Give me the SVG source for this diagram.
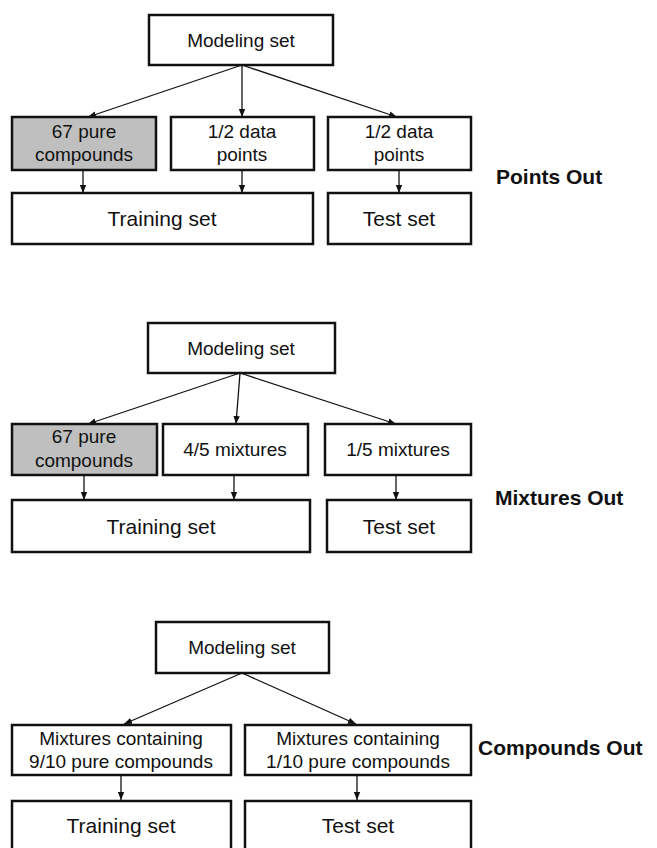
<svg xmlns="http://www.w3.org/2000/svg" width="657" height="848" viewBox="0 0 657 848">
<defs>
<style>
.box{fill:#fff;stroke:#111;stroke-width:2.5}
.gray{fill:#bfbfbf}
.t{font-family:"Liberation Sans",Arial,sans-serif;font-size:19px;fill:#111;text-anchor:middle}
.big{font-size:21px}
.lbl{font-family:"Liberation Sans",Arial,sans-serif;font-size:21px;font-weight:bold;fill:#111}
.c{stroke:#111;stroke-width:1.3;fill:none;marker-end:url(#ah)}
</style>
<marker id="ah" markerUnits="userSpaceOnUse" markerWidth="8" markerHeight="8" viewBox="0 0 8 8" refX="8" refY="4" orient="auto">
<path d="M0,0.8 L8,4 L0,7.2 Z" fill="#111"/>
</marker>
</defs>
<rect width="657" height="848" fill="#fff"/>

<g id="connectors">
<line class="c" x1="242" y1="65" x2="88" y2="117"/>
<line class="c" x1="242" y1="65" x2="242" y2="117"/>
<line class="c" x1="242" y1="65" x2="397" y2="117"/>
<line class="c" x1="83" y1="170" x2="83" y2="193"/>
<line class="c" x1="242" y1="170" x2="242" y2="193"/>
<line class="c" x1="399" y1="170" x2="399" y2="193"/>

<line class="c" x1="240" y1="373" x2="88" y2="424"/>
<line class="c" x1="240" y1="373" x2="236" y2="424"/>
<line class="c" x1="240" y1="373" x2="396" y2="424"/>
<line class="c" x1="84" y1="475" x2="84" y2="500"/>
<line class="c" x1="234" y1="475" x2="234" y2="500"/>
<line class="c" x1="396" y1="475" x2="396" y2="500"/>

<line class="c" x1="242" y1="673" x2="124" y2="724"/>
<line class="c" x1="242" y1="673" x2="356" y2="724"/>
<line class="c" x1="121" y1="775" x2="121" y2="800"/>
<line class="c" x1="357" y1="775" x2="357" y2="800"/>
</g>

<g id="s1-modeling"><rect class="box" x="149" y="15" width="184" height="50"/><text class="t" x="241" y="47">Modeling set</text></g>
<g id="s1-pure"><rect class="box gray" x="12" y="117" width="144" height="53"/><text class="t" x="84" y="138">67 pure</text><text class="t" x="84" y="161">compounds</text></g>
<g id="s1-half-a"><rect class="box" x="171" y="117" width="143" height="53"/><text class="t" x="242" y="138">1/2 data</text><text class="t" x="242" y="161">points</text></g>
<g id="s1-half-b"><rect class="box" x="328" y="117" width="143" height="53"/><text class="t" x="399" y="138">1/2 data</text><text class="t" x="399" y="161">points</text></g>
<g id="s1-training"><rect class="box" x="12" y="193" width="301" height="51"/><text class="t big" x="162" y="226">Training set</text></g>
<g id="s1-test"><rect class="box" x="328" y="193" width="143" height="51"/><text class="t big" x="399" y="226">Test set</text></g>
<g id="s1-label"><text class="lbl" x="496" y="184">Points Out</text></g>

<g id="s2-modeling"><rect class="box" x="148" y="323" width="187" height="50"/><text class="t" x="241" y="355">Modeling set</text></g>
<g id="s2-pure"><rect class="box gray" x="12" y="424" width="145" height="51"/><text class="t" x="84" y="443">67 pure</text><text class="t" x="84" y="467">compounds</text></g>
<g id="s2-four"><rect class="box" x="163" y="424" width="145" height="51"/><text class="t" x="235" y="456">4/5 mixtures</text></g>
<g id="s2-one"><rect class="box" x="325" y="424" width="146" height="51"/><text class="t" x="398" y="456">1/5 mixtures</text></g>
<g id="s2-training"><rect class="box" x="12" y="500" width="298" height="52"/><text class="t big" x="161" y="534">Training set</text></g>
<g id="s2-test"><rect class="box" x="327" y="500" width="144" height="52"/><text class="t big" x="399" y="534">Test set</text></g>
<g id="s2-label"><text class="lbl" x="495" y="505">Mixtures Out</text></g>

<g id="s3-modeling"><rect class="box" x="156" y="622" width="173" height="51"/><text class="t" x="242" y="654">Modeling set</text></g>
<g id="s3-nine"><rect class="box" x="12" y="725" width="219" height="50"/><text class="t" x="121" y="745">Mixtures containing</text><text class="t" x="121" y="768">9/10 pure compounds</text></g>
<g id="s3-one"><rect class="box" x="245" y="725" width="226" height="50"/><text class="t" x="358" y="745">Mixtures containing</text><text class="t" x="358" y="768">1/10 pure compounds</text></g>
<g id="s3-training"><rect class="box" x="12" y="801" width="219" height="54"/><text class="t big" x="121" y="833">Training set</text></g>
<g id="s3-test"><rect class="box" x="245" y="801" width="226" height="54"/><text class="t big" x="358" y="833">Test set</text></g>
<g id="s3-label"><text class="lbl" x="478" y="755" font-size="22">Compounds Out</text></g>
</svg>
